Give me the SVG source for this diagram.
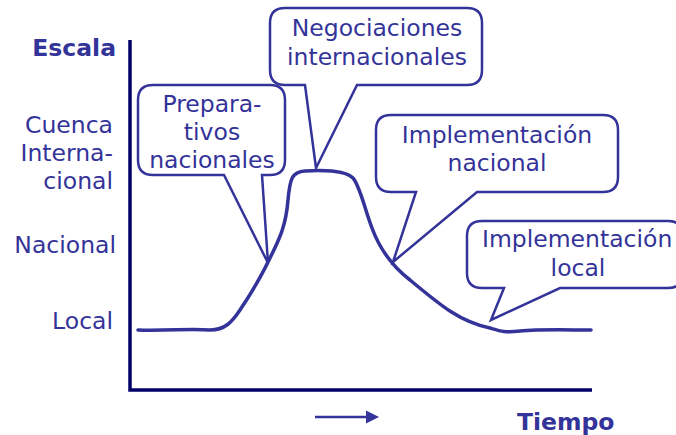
<svg xmlns="http://www.w3.org/2000/svg" width="676" height="435" viewBox="0 0 676 435">
<style>
text{font-family:"DejaVu Sans","Verdana",sans-serif;fill:#333399;font-size:23.5px}
.b{font-weight:bold}
.c{text-anchor:middle}
.r{text-anchor:end}
.call{fill:#fff;stroke:#333399;stroke-width:2.5;stroke-linejoin:miter}
.axis{stroke:#000066;stroke-width:3.5;fill:none}
.curve{stroke:#333399;stroke-width:3.5;fill:none;stroke-linecap:round}
</style>
<defs>
<marker id="ah" viewBox="0 0 10 10" refX="0" refY="5" markerWidth="13" markerHeight="16" markerUnits="userSpaceOnUse" orient="auto"><path d="M0,0 L10,5 L0,10 Z" fill="#333399"/></marker>
</defs>
<rect width="676" height="435" fill="#fff"/>
<g id="axes">
<path class="axis" d="M130,40 V390 H592"/>
</g>
<g id="labels">
<text class="b r" x="116" y="56">Escala</text>
<text class="r" x="113" y="133">Cuenca</text>
<text class="r" x="113" y="161">Interna-</text>
<text class="r" x="113" y="189">cional</text>
<text class="r" x="116" y="253">Nacional</text>
<text class="r" x="113" y="329">Local</text>
<text class="b" x="517" y="430">Tiempo</text>
</g>
<g id="connectors">
<path class="curve" d="M138,330 C170,331 190,328 210,330 C225,330 232,322 240,310 C252,292 262,275 270,258 C280,238 286,225 288,200 C290,178 292,172 305,171 C320,170 345,170 353,178 C360,186 365,210 372,228 C380,250 392,266 410,280 C440,305 460,322 490,328 C500,331 505,333 520,331 C540,329 570,330 591,330"/>
<line x1="315" y1="417" x2="366" y2="417" stroke="#333399" stroke-width="2.5" marker-end="url(#ah)"/>
</g>
<g id="preparativos">
<path class="call" d="M153,85 H270 Q285,85 285,100 V160 Q285,175 270,175 H262 L268,263 L224,175 H153 Q138,175 138,160 V100 Q138,85 153,85 Z"/>
<text class="c" x="212" y="112">Prepara-</text>
<text class="c" x="212" y="140">tivos</text>
<text class="c" x="212" y="168">nacionales</text>
</g>
<g id="negociaciones">
<path class="call" d="M285,8 H467 Q482,8 482,23 V70 Q482,85 467,85 H357 L316,168 L305,85 H285 Q270,85 270,70 V23 Q270,8 285,8 Z"/>
<text class="c" x="377" y="36">Negociaciones</text>
<text class="c" x="377" y="65">internacionales</text>
</g>
<g id="impl-nacional">
<path class="call" d="M391,115 H603 Q618,115 618,130 V177 Q618,192 603,192 H477 L393,262 L416,192 H391 Q376,192 376,177 V130 Q376,115 391,115 Z"/>
<text class="c" x="497" y="143">Implementación</text>
<text class="c" x="497" y="171">nacional</text>
</g>
<g id="impl-local">
<path class="call" d="M482,221 H668 Q683,221 683,236 V273 Q683,288 668,288 H560 L491,320 L504,288 H482 Q467,288 467,273 V236 Q467,221 482,221 Z"/>
<text x="482" y="247">Implementación</text>
<text class="c" x="578" y="276">local</text>
</g>
</svg>
